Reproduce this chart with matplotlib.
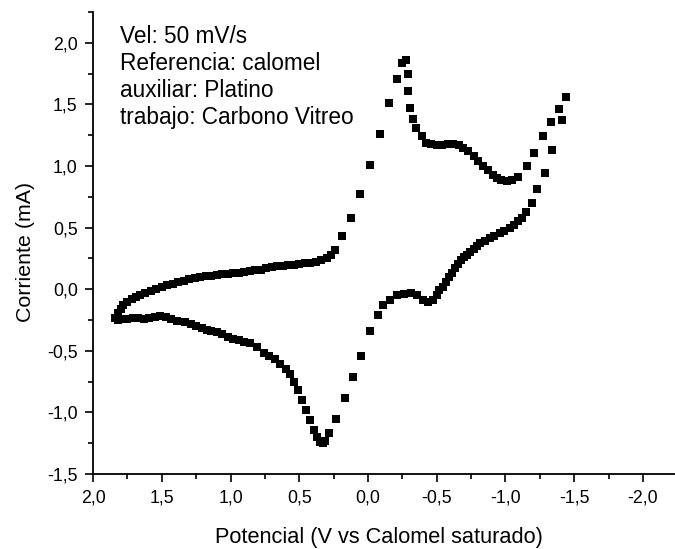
import numpy as np
import matplotlib.pyplot as plt
from matplotlib.ticker import MultipleLocator, FuncFormatter

plt.rcParams['font.family'] = ['Liberation Sans', 'DejaVu Sans']

# voltammogram, in scan order: potential (V vs SCE) and current (mA)
potencial = [
    1.84, 1.82, 1.80, 1.78, 1.75, 1.72, 1.69, 1.66, 1.62, 1.58, 1.54, 1.50,
    1.46, 1.42, 1.38, 1.34, 1.30, 1.26, 1.22, 1.18, 1.14, 1.10, 1.06, 1.02,
    0.98, 0.94, 0.90, 0.86, 0.82, 0.78, 0.74, 0.70, 0.66, 0.62, 0.58, 0.54,
    0.50, 0.46, 0.42, 0.38, 0.34, 0.30, 0.27, 0.24,
    0.187, 0.126, 0.058, -0.015, -0.09, -0.155, -0.21, -0.25, -0.28,
    -0.29, -0.29, -0.305, -0.33, -0.35, -0.39, -0.42, -0.46, -0.50, -0.54,
    -0.58, -0.62, -0.66, -0.69, -0.73, -0.77, -0.80, -0.84, -0.87, -0.91,
    -0.94, -0.97, -1.01, -1.05, -1.09, -1.16, -1.21, -1.275, -1.33, -1.39,
    -1.44,
    -1.41, -1.34, -1.29, -1.23, -1.19, -1.15, -1.12, -1.09, -1.06, -1.03,
    -0.99, -0.96, -0.92, -0.89, -0.85, -0.815, -0.79, -0.77, -0.745, -0.72,
    -0.70, -0.68, -0.655, -0.63, -0.61, -0.59, -0.567, -0.547, -0.52, -0.50,
    -0.47, -0.44, -0.40, -0.36, -0.31, -0.26, -0.21, -0.16, -0.11, -0.07,
    -0.015, 0.05, 0.11, 0.17, 0.23, 0.28, 0.31, 0.33, 0.35, 0.37, 0.39,
    0.42, 0.45, 0.48, 0.51, 0.54, 0.57, 0.60, 0.64, 0.68, 0.72, 0.76, 0.81,
    0.86, 0.90, 0.94, 0.98, 1.02, 1.06, 1.10, 1.14, 1.17, 1.21, 1.25, 1.29,
    1.33, 1.39, 1.43, 1.47, 1.51, 1.55, 1.59, 1.63, 1.67, 1.71, 1.75, 1.79,
    1.82,
]
corriente = [
    -0.235, -0.19, -0.16, -0.13, -0.10, -0.08, -0.06, -0.045, -0.03, -0.015,
    0.0, 0.02, 0.035, 0.045, 0.055, 0.07, 0.08, 0.09, 0.10, 0.105, 0.11,
    0.115, 0.12, 0.125, 0.13, 0.135, 0.14, 0.15, 0.155, 0.16, 0.17, 0.18,
    0.185, 0.19, 0.195, 0.20, 0.205, 0.21, 0.215, 0.22, 0.235, 0.25, 0.28,
    0.32,
    0.43, 0.58, 0.77, 1.01, 1.26, 1.51, 1.71, 1.84, 1.86,
    1.75, 1.61, 1.47, 1.38, 1.31, 1.24, 1.19, 1.18, 1.17, 1.17, 1.175, 1.18,
    1.17, 1.15, 1.12, 1.08, 1.04, 1.0, 0.97, 0.93, 0.90, 0.885, 0.875, 0.885,
    0.915, 1.0, 1.11, 1.24, 1.36, 1.465, 1.56,
    1.37, 1.13, 0.94, 0.81, 0.70, 0.63, 0.58, 0.55, 0.525, 0.50, 0.475,
    0.455, 0.435, 0.415, 0.395, 0.375, 0.35, 0.33, 0.305, 0.28, 0.26, 0.24,
    0.205, 0.17, 0.135, 0.10, 0.06, 0.022, -0.01, -0.045, -0.09, -0.10,
    -0.085, -0.05, -0.03, -0.035, -0.05, -0.09, -0.13, -0.21, -0.34, -0.54,
    -0.71, -0.88, -1.05, -1.17, -1.235, -1.25, -1.24, -1.20, -1.14, -1.06,
    -0.98, -0.90, -0.82, -0.75, -0.69, -0.65, -0.61, -0.57, -0.545, -0.52,
    -0.465, -0.44, -0.43, -0.415, -0.40, -0.385, -0.365, -0.35, -0.335,
    -0.33, -0.315, -0.30, -0.285, -0.27, -0.26, -0.245, -0.225, -0.215,
    -0.225, -0.235, -0.24, -0.235, -0.235, -0.24, -0.245, -0.25,
]

notas = ["Vel: 50 mV/s", "Referencia: calomel", "auxiliar: Platino",
         "trabajo: Carbono Vitreo"]

fig = plt.figure(figsize=(6.75, 5.49), dpi=100)
ax = fig.add_axes([0.1378, 0.1366, 0.8616, 0.8414])

ax.plot(potencial, corriente, ls='none', marker='s', ms=5.8,
        color='black', mew=0)

ax.set_xlim(2.0, -2.23)
ax.set_ylim(-1.5, 2.25)

ax.spines['top'].set_visible(False)
ax.spines['right'].set_visible(False)
for s in ('left', 'bottom'):
    ax.spines[s].set_linewidth(1.3)

ax.xaxis.set_major_locator(MultipleLocator(0.5))
ax.xaxis.set_minor_locator(MultipleLocator(0.25))
ax.yaxis.set_major_locator(MultipleLocator(0.5))
ax.yaxis.set_minor_locator(MultipleLocator(0.25))
coma = FuncFormatter(lambda v, p: f"{v:.1f}".replace('.', ',').replace('-0,0', '0,0'))
ax.xaxis.set_major_formatter(coma)
ax.yaxis.set_major_formatter(coma)
ax.tick_params(which='major', direction='out', length=6, width=1.2,
               labelsize=12.8, pad=5)
ax.tick_params(which='minor', direction='out', length=3.5, width=1.2)

ax.set_xlabel("Potencial (V vs Calomel saturado)", fontsize=15.7)
ax.set_ylabel("Corriente (mA)", fontsize=15.4)
ax.xaxis.set_label_coords(0.492, -0.115)
ax.yaxis.set_label_coords(-0.10, 0.48)

ax.text(0.0466, 0.972, "\n".join(notas), transform=ax.transAxes,
        ha='left', va='top', fontsize=16.3, linespacing=1.22)

plt.savefig("out.png", dpi=100)
